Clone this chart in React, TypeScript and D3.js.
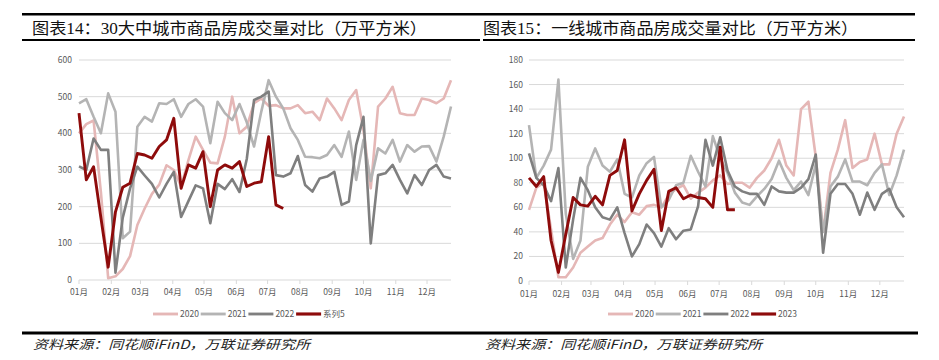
import React from "react";
import * as d3 from "d3";

const width = 939;
const height = 360;

const monthLabels = ["01月", "02月", "03月", "04月", "05月", "06月", "07月", "08月", "09月", "10月", "11月", "12月"];
const monthStartDays = [0, 31, 59, 90, 120, 151, 181, 212, 243, 273, 304, 334];

// 30大中城市, weekly (万平方米)
const city2020 = [400, 425, 435, 240, 5, 10, 30, 65, 150, 195, 235, 260, 313, 300, 255, 327, 391, 355, 320, 318, 391, 500, 400, 418, 482, 495, 475, 477, 468, 468, 477, 455, 459, 436, 495, 468, 436, 491, 518, 409, 250, 473, 495, 527, 455, 450, 450, 495, 491, 482, 495, 545];
const city2021 = [482, 493, 445, 400, 509, 459, 114, 132, 418, 445, 432, 482, 480, 493, 445, 480, 493, 473, 373, 486, 455, 436, 480, 430, 364, 460, 545, 500, 468, 414, 382, 336, 335, 332, 341, 368, 336, 405, 273, 382, 270, 359, 345, 382, 323, 368, 350, 364, 365, 323, 391, 473];
const city2022 = [310, 300, 386, 355, 355, 20, 170, 250, 309, 285, 262, 225, 262, 295, 172, 215, 258, 250, 155, 262, 248, 275, 240, 330, 491, 500, 514, 286, 282, 291, 338, 259, 241, 277, 282, 295, 205, 214, 368, 445, 100, 286, 291, 314, 273, 236, 286, 259, 300, 314, 282, 277];
const city2023 = [455, 273, 309, 170, 35, 186, 253, 264, 345, 341, 332, 364, 382, 441, 250, 314, 305, 350, 200, 300, 314, 305, 323, 255, 264, 268, 391, 205, 195];

// 一线城市, weekly (万平方米)
const tier2020 = [58, 76, 80, 42, 3, 3, 11, 23, 28, 33, 35, 46, 54, 48, 56, 54, 61, 62, 60, 70, 75, 78, 67, 72, 76, 82, 86, 79, 80, 80, 76, 84, 90, 100, 115, 94, 86, 140, 146, 101, 40, 88, 107, 131, 92, 97, 99, 120, 95, 95, 120, 134];
const tier2021 = [127, 84, 94, 107, 164, 55, 18, 33, 93, 108, 94, 89, 99, 71, 68, 86, 96, 101, 60, 66, 78, 80, 102, 89, 77, 118, 100, 88, 72, 64, 62, 69, 75, 83, 98, 84, 74, 81, 70, 95, 40, 77, 85, 99, 81, 81, 78, 88, 95, 70, 86, 107];
const tier2022 = [104, 84, 78, 65, 92, 11, 50, 84, 74, 60, 52, 50, 60, 39, 20, 30, 46, 39, 28, 43, 34, 41, 42, 61, 115, 94, 117, 90, 77, 73, 71, 71, 62, 77, 73, 72, 72, 76, 83, 103, 23, 71, 79, 79, 71, 54, 72, 58, 71, 75, 60, 52];
const tier2023 = [84, 77, 85, 33, 7, 38, 68, 62, 61, 69, 62, 86, 90, 115, 57, 71, 82, 91, 41, 73, 76, 67, 70, 68, 67, 60, 109, 58, 58];

const cityTicks = [0, 100, 200, 300, 400, 500, 600];
const tierTicks = [0, 20, 40, 60, 80, 100, 120, 140, 160, 180];

const pink = "#e5b7b6";
const lightGray = "#b4b4b4";
const darkGray = "#7f7f7f";
const darkRed = "#8e0b0b";

const sansFont = "'Noto Sans CJK SC', 'Liberation Sans', sans-serif";
const titleFont = "'Liberation Serif', 'Noto Sans CJK SC', serif";
const axisColor = "#595959";
const gridColor = "#d9d9d9";

type Series = { name: string; values: number[]; color: string; w: number };

type PanelProps = {
  title: string;
  titleX: number;
  titleLen: number;
  ticks: number[];
  series: Series[];
  left: number; // first point / grid start
  right: number;
  top: number; // y of max tick
  bottom: number; // y of 0
  labelRight: number;
  labelY: number;
  legendX: number;
  sourceX: number;
};

// rough width of a legend label at 8.5px
const labelWidth = (s: string) =>
  Array.from(s).reduce((acc, ch) => acc + (/[\u4e00-\u9fff]/.test(ch) ? 8.6 : 4.8), 0);

function Panel(p: PanelProps) {
  const x = d3.scaleLinear().domain([0, 51]).range([p.left, p.right]);
  const y = d3
    .scaleLinear()
    .domain([0, p.ticks[p.ticks.length - 1]])
    .range([p.bottom, p.top]);
  const line = d3
    .line<number>()
    .x((d, i) => x(i))
    .y(d => y(d));

  let cursor = p.legendX;
  const legend = p.series.map(s => {
    const item = { s, x: cursor };
    cursor += 27 + labelWidth(s.name) + 1.5;
    return item;
  });

  return (
    <g>
      {/* title */}
      <text
        x={p.titleX}
        y={34}
        fontFamily={titleFont}
        fontSize={16}
        fill="#111"
        textLength={p.titleLen}
        lengthAdjust="spacingAndGlyphs"
      >
        {p.title}
      </text>

      {/* grid */}
      {p.ticks.map(t => (
        <g key={t}>
          <line x1={p.left} x2={p.right} y1={y(t)} y2={y(t)} stroke={gridColor} strokeWidth={1} />
          <text
            x={p.labelRight}
            y={y(t)}
            dy="0.35em"
            textAnchor="end"
            fontFamily={sansFont}
            fontSize={8.5}
            fill={axisColor}
          >
            {t}
          </text>
        </g>
      ))}

      {/* month ticks */}
      {monthStartDays.map((d, i) => (
        <g key={i}>
          <line x1={x(d / 7)} x2={x(d / 7)} y1={p.bottom} y2={p.bottom + 4} stroke={gridColor} />
          <text
            x={x(d / 7)}
            y={p.labelY}
            dy="0.35em"
            textAnchor="middle"
            fontFamily={sansFont}
            fontSize={8.5}
            fill={axisColor}
          >
            {monthLabels[i]}
          </text>
        </g>
      ))}

      {/* series */}
      {p.series.map(s => (
        <path
          key={s.name}
          d={line(s.values) || ""}
          fill="none"
          stroke={s.color}
          strokeWidth={s.w}
          strokeLinejoin="round"
        />
      ))}

      {/* legend */}
      {legend.map(({ s, x: lx }) => (
        <g key={s.name}>
          <line x1={lx} x2={lx + 25} y1={314} y2={314} stroke={s.color} strokeWidth={s.w + 0.25} />
          <text x={lx + 27} y={314} dy="0.35em" fontFamily={sansFont} fontSize={8.5} fill={axisColor}>
            {s.name}
          </text>
        </g>
      ))}

      {/* source */}
      <text
        x={p.sourceX}
        y={349}
        fontFamily={sansFont}
        fontSize={12.5}
        fontStyle="italic"
        fill="#222"
        textLength={277}
        lengthAdjust="spacingAndGlyphs"
      >
        资料来源：同花顺iFinD，万联证券研究所
      </text>
    </g>
  );
}

export default function App() {
  return (
    <svg
      width={width}
      height={height}
      style={{ position: "absolute", left: 0, top: 0, background: "#fff" }}
    >
      {/* rules */}
      <rect x={22} y={13} width={893} height={2.5} fill="#000" />
      <rect x={22} y={39} width={458} height={2} fill="#000" />
      <rect x={483} y={39} width={432} height={2} fill="#000" />
      <rect x={22} y={331.5} width={896} height={3} fill="#000" />

      <Panel
        title="图表14：30大中城市商品房成交量对比（万平方米）"
        titleX={32}
        titleLen={395}
        ticks={cityTicks}
        series={[
          { name: "2020", values: city2020, color: pink, w: 2.6 },
          { name: "2021", values: city2021, color: lightGray, w: 2.6 },
          { name: "2022", values: city2022, color: darkGray, w: 2.6 },
          { name: "系列5", values: city2023, color: darkRed, w: 2.9 },
        ]}
        left={79}
        right={451}
        top={60}
        bottom={280}
        labelRight={72}
        labelY={292}
        legendX={153}
        sourceX={33}
      />
      <Panel
        title="图表15：一线城市商品房成交量对比（万平方米）"
        titleX={483}
        titleLen={375}
        ticks={tierTicks}
        series={[
          { name: "2020", values: tier2020, color: pink, w: 2.6 },
          { name: "2021", values: tier2021, color: lightGray, w: 2.6 },
          { name: "2022", values: tier2022, color: darkGray, w: 2.6 },
          { name: "2023", values: tier2023, color: darkRed, w: 2.9 },
        ]}
        left={529}
        right={904}
        top={60}
        bottom={281}
        labelRight={523}
        labelY={294}
        legendX={608}
        sourceX={485}
      />
    </svg>
  );
}
